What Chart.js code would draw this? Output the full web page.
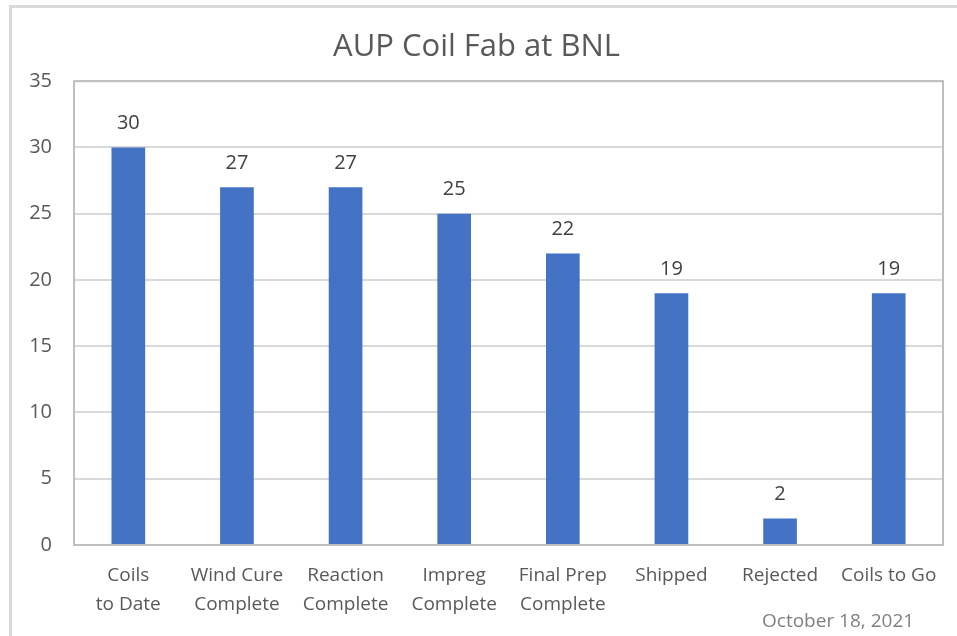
<!DOCTYPE html>
<html>
<head>
<meta charset="utf-8">
<script src="https://cdn.jsdelivr.net/npm/chart.js@4"></script>
<style>
  body { margin: 0; background: #fff; font-family: "Open Sans", sans-serif; }
  #wrap { position: relative; width: 957px; height: 636px; overflow: hidden; }
  #frame { position: absolute; left: 9px; top: 5px; width: 960px; height: 640px;
           border-top: 3px solid #d9d9d9; border-left: 3px solid #d9d9d9; }
  #date { position: absolute; left: 762px; top: 608px; font-size: 19px; line-height: 24px; color: #808080; }
  canvas { position: absolute; left: 0; top: 0; }
</style>
</head>
<body>
<div id="wrap">
  <div id="frame"></div>
  <canvas id="chart" width="957" height="636"></canvas>
  <div id="date">October 18, 2021</div>
</div>
<script>
const categories = [
  ["Coils", "to Date"],
  ["Wind Cure", "Complete"],
  ["Reaction", "Complete"],
  ["Impreg", "Complete"],
  ["Final Prep", "Complete"],
  ["Shipped"],
  ["Rejected"],
  ["Coils to Go"]
];
const coilCounts = [30, 27, 27, 25, 22, 19, 2, 19];
const yTicks = [0, 5, 10, 15, 20, 25, 30, 35];

const textColor = '#595959';

// value labels above each bar
const valueLabels = {
  id: 'valueLabels',
  afterDatasetsDraw(chart) {
    const ctx = chart.ctx;
    const meta = chart.getDatasetMeta(0);
    ctx.save();
    ctx.font = '20px "Open Sans"';
    ctx.fillStyle = '#404040';
    ctx.textAlign = 'center';
    ctx.textBaseline = 'middle';
    meta.data.forEach((bar, i) => {
      ctx.fillText(coilCounts[i], bar.x, bar.y - 24);
    });
    ctx.restore();
  }
};

// border around the plot area
const plotFrame = {
  id: 'plotFrame',
  beforeDatasetsDraw(chart) {
    const a = chart.chartArea;
    const ctx = chart.ctx;
    ctx.save();
    ctx.strokeStyle = '#bfbfbf';
    ctx.lineWidth = 2;
    ctx.strokeRect(a.left, a.top, a.right - a.left, a.bottom - a.top);
    ctx.restore();
  }
};

new Chart(document.getElementById('chart'), {
  type: 'bar',
  data: {
    labels: categories,
    datasets: [{
      data: coilCounts,
      backgroundColor: '#4472C4',
      barPercentage: 0.62,
      categoryPercentage: 0.5
    }]
  },
  options: {
    responsive: false,
    animation: false,
    layout: { padding: { left: 10, right: 14, top: 20, bottom: 0 } },
    plugins: {
      legend: { display: false },
      tooltip: { enabled: false },
      title: {
        display: true,
        text: 'AUP Coil Fab at BNL',
        color: textColor,
        font: { family: 'Open Sans', size: 31, weight: 'normal' },
        padding: { top: 9, bottom: 15 }
      }
    },
    scales: {
      x: {
        grid: { display: false, drawTicks: false },
        border: { display: false },
        ticks: {
          color: textColor,
          font: { family: 'Open Sans', size: 19, lineHeight: 1.52 },
          padding: 16,
          maxRotation: 0,
          autoSkip: false
        },
        afterFit(scale) { scale.height = 91; }
      },
      y: {
        min: 0,
        max: 35,
        afterBuildTicks(scale) { scale.ticks = yTicks.map(v => ({ value: v })); },
        grid: { color: '#d9d9d9', lineWidth: 2, drawTicks: false },
        border: { display: false },
        ticks: {
          color: textColor,
          font: { family: 'Open Sans', size: 20 },
          padding: 22
        },
        afterFit(scale) { scale.width = 64; }
      }
    }
  },
  plugins: [plotFrame, valueLabels]
});
</script>
</body>
</html>
